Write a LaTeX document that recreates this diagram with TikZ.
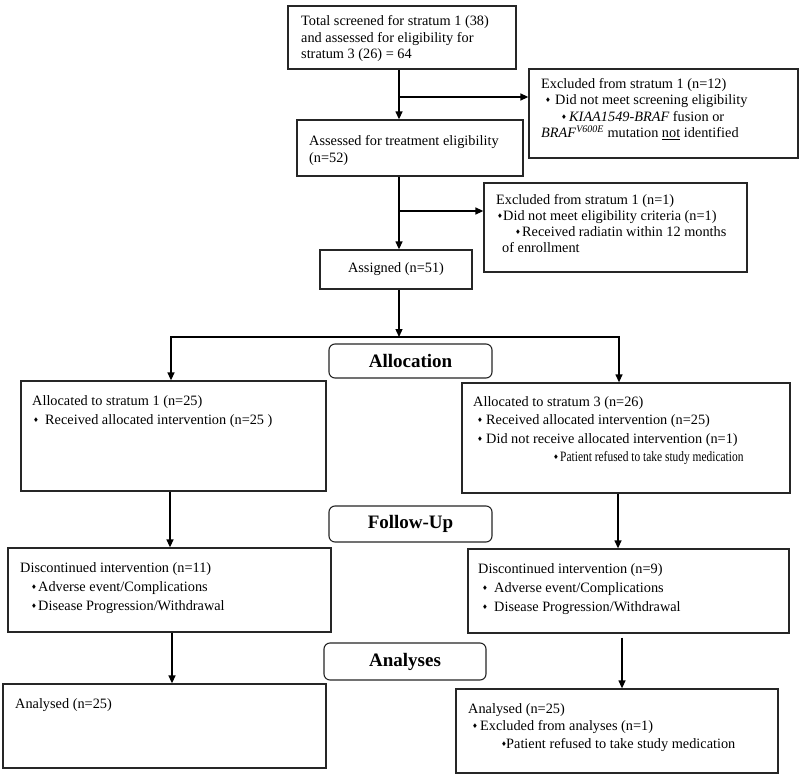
\documentclass[tikz,border=0pt]{standalone}
\usepackage{fontspec}
\setmainfont{Liberation Serif}
\newfontfamily\dejavu{DejaVu Sans}
\usetikzlibrary{arrows.meta}
\newcommand\bulglyph{\raisebox{1.6pt}{\dejavu\fontsize{6.5}{6.5}\selectfont ♦}}
\newcommand\bl[2]{\hspace*{#1pt}\rlap{\bulglyph}\hspace*{\dimexpr #2pt-#1pt\relax}}
\begin{document}
\begin{tikzpicture}[x=1pt,y=-1pt,
  box/.style={draw=black!85,line width=1.3pt,inner sep=0pt,minimum width=#1},
  stage/.style={draw=black!85,line width=1.1pt,rounded corners=6pt,inner sep=0pt,
     font=\bfseries\fontsize{19}{22}\selectfont},
  txt/.style={anchor=base west,inner sep=0pt,align=left,font=\fontsize{14.3}{#1}\selectfont},
  arr/.style={line width=1.3pt,-{Triangle[length=8pt,width=7pt]}}]
\useasboundingbox (0,0) rectangle (800,776);
\fill[white] (0,0) rectangle (800,776);

% boxes
\node[box=228pt,minimum height=63pt] (b1) at (402,37.5) {};
\node[box=226pt,minimum height=56pt] (b2) at (410,148) {};
\node[box=269pt,minimum height=89pt] (e1) at (663.5,113.5) {};
\node[box=263pt,minimum height=89pt] (e2) at (615.5,227.5) {};
\node[box=152pt,minimum height=39pt,font=\fontsize{14.3}{16}\selectfont] (as) at (396,269.5) {Assigned (n=51)};
\node[stage,minimum width=163pt,minimum height=34pt] (al) at (410.5,361) {Allocation};
\node[box=305pt,minimum height=110pt] (la) at (173.5,436) {};
\node[box=328pt,minimum height=110pt] (ra) at (626,438) {};
\node[stage,minimum width=163pt,minimum height=36pt] (fu) at (410.5,524) {Follow-Up};
\node[box=323pt,minimum height=84pt] (ld) at (169.5,590) {};
\node[box=321pt,minimum height=84pt] (rd) at (628.5,591) {};
\node[stage,minimum width=162pt,minimum height=37pt] (an) at (405,661.5) {Analyses};
\node[box=323pt,minimum height=84pt] (lan) at (164.5,726) {};
\node[box=322pt,minimum height=84pt] (ran) at (617,731) {};

% texts (anchor = baseline of the last line)
\node[txt=16.5] (t1) at (301,59) {Total screened for stratum 1 (38)\\and assessed for eligibility for\\stratum 3 (26) = 64};
\node[txt=17] (t2) at (309,162) {Assessed for treatment eligibility\\(n=52)};
\node[txt=16.5] (te1) at (541,137.5) {Excluded from stratum 1 (n=12)\\
  \bl{4}{14}Did not meet screening eligibility\\
  \bl{20}{28}\textit{KIAA1549-BRAF} fusion or\\
  \textit{BRAF}\textsuperscript{\textit{V600E}} mutation \underline{not} identified};
\node[txt=16] (te2) at (496,252) {Excluded from stratum 1 (n=1)\\
  \bl{1}{7}Did not meet eligibility criteria (n=1)\\
  \bl{19}{26}Received radiatin within 12 months\\
  \hspace*{6pt}of enrollment};
\node[txt=19] (tla) at (32,424) {Allocated to stratum 1 (n=25)\\
  \bl{1}{13}Received allocated intervention (n=25 )};
\node[txt=18.5] (tra) at (473,461.5) {Allocated to stratum 3 (n=26)\\
  \bl{4}{13}Received allocated intervention (n=25)\\
  \bl{4}{13}Did not receive allocated intervention (n=1)\\
  \bl{80}{87}\scalebox{0.8}[1]{Patient refused to take study medication}};
\node[txt=19] (tld) at (20,610) {Discontinued intervention (n=11)\\
  \bl{11}{18}Adverse event/Complications\\
  \bl{11}{18}Disease Progression/Withdrawal};
\node[txt=19] (trd) at (478,611) {Discontinued intervention (n=9)\\
  \bl{4}{16}Adverse event/Complications\\
  \bl{4}{16}Disease Progression/Withdrawal};
\node[txt=17] (tlan) at (15,708) {Analysed (n=25)};
\node[txt=17.5] (tran) at (468,748) {Analysed (n=25)\\
  \bl{4}{12}Excluded from analyses (n=1)\\
  \bl{33}{38}Patient refused to take study medication};

% connectors
\coordinate (c1) at (399,97);
\coordinate (c2) at (399,211);
\coordinate (sp) at (399,337);
\draw[arr] (b1.south -| c1) -- (b2.north -| c1);
\draw[arr] (c1) -- (e1.west |- c1);
\draw[arr] (b2.south -| c2) -- (as.north -| c2);
\draw[arr] (c2) -- (e2.west |- c2);
\draw[arr] (as.south -| sp) -- (sp);
\draw[arr] (sp) -| ([xshift=-2.5pt]la.north);
\draw[arr] (sp) -| ([xshift=-7pt]ra.north);
\draw[arr] ([xshift=0.5pt]ld.north |- la.south) -- ([xshift=0.5pt]ld.north);
\draw[arr] ([xshift=-8pt]ra.south) -- ([xshift=-8pt]ra.south |- rd.north);
\draw[arr] ([xshift=2.5pt]ld.south) -- ([xshift=2.5pt]ld.south |- lan.north);
\draw[arr] ([xshift=-6.5pt,yshift=-4pt]rd.south) -- ([xshift=-6.5pt]rd.south |- ran.north);
\end{tikzpicture}
\end{document}
